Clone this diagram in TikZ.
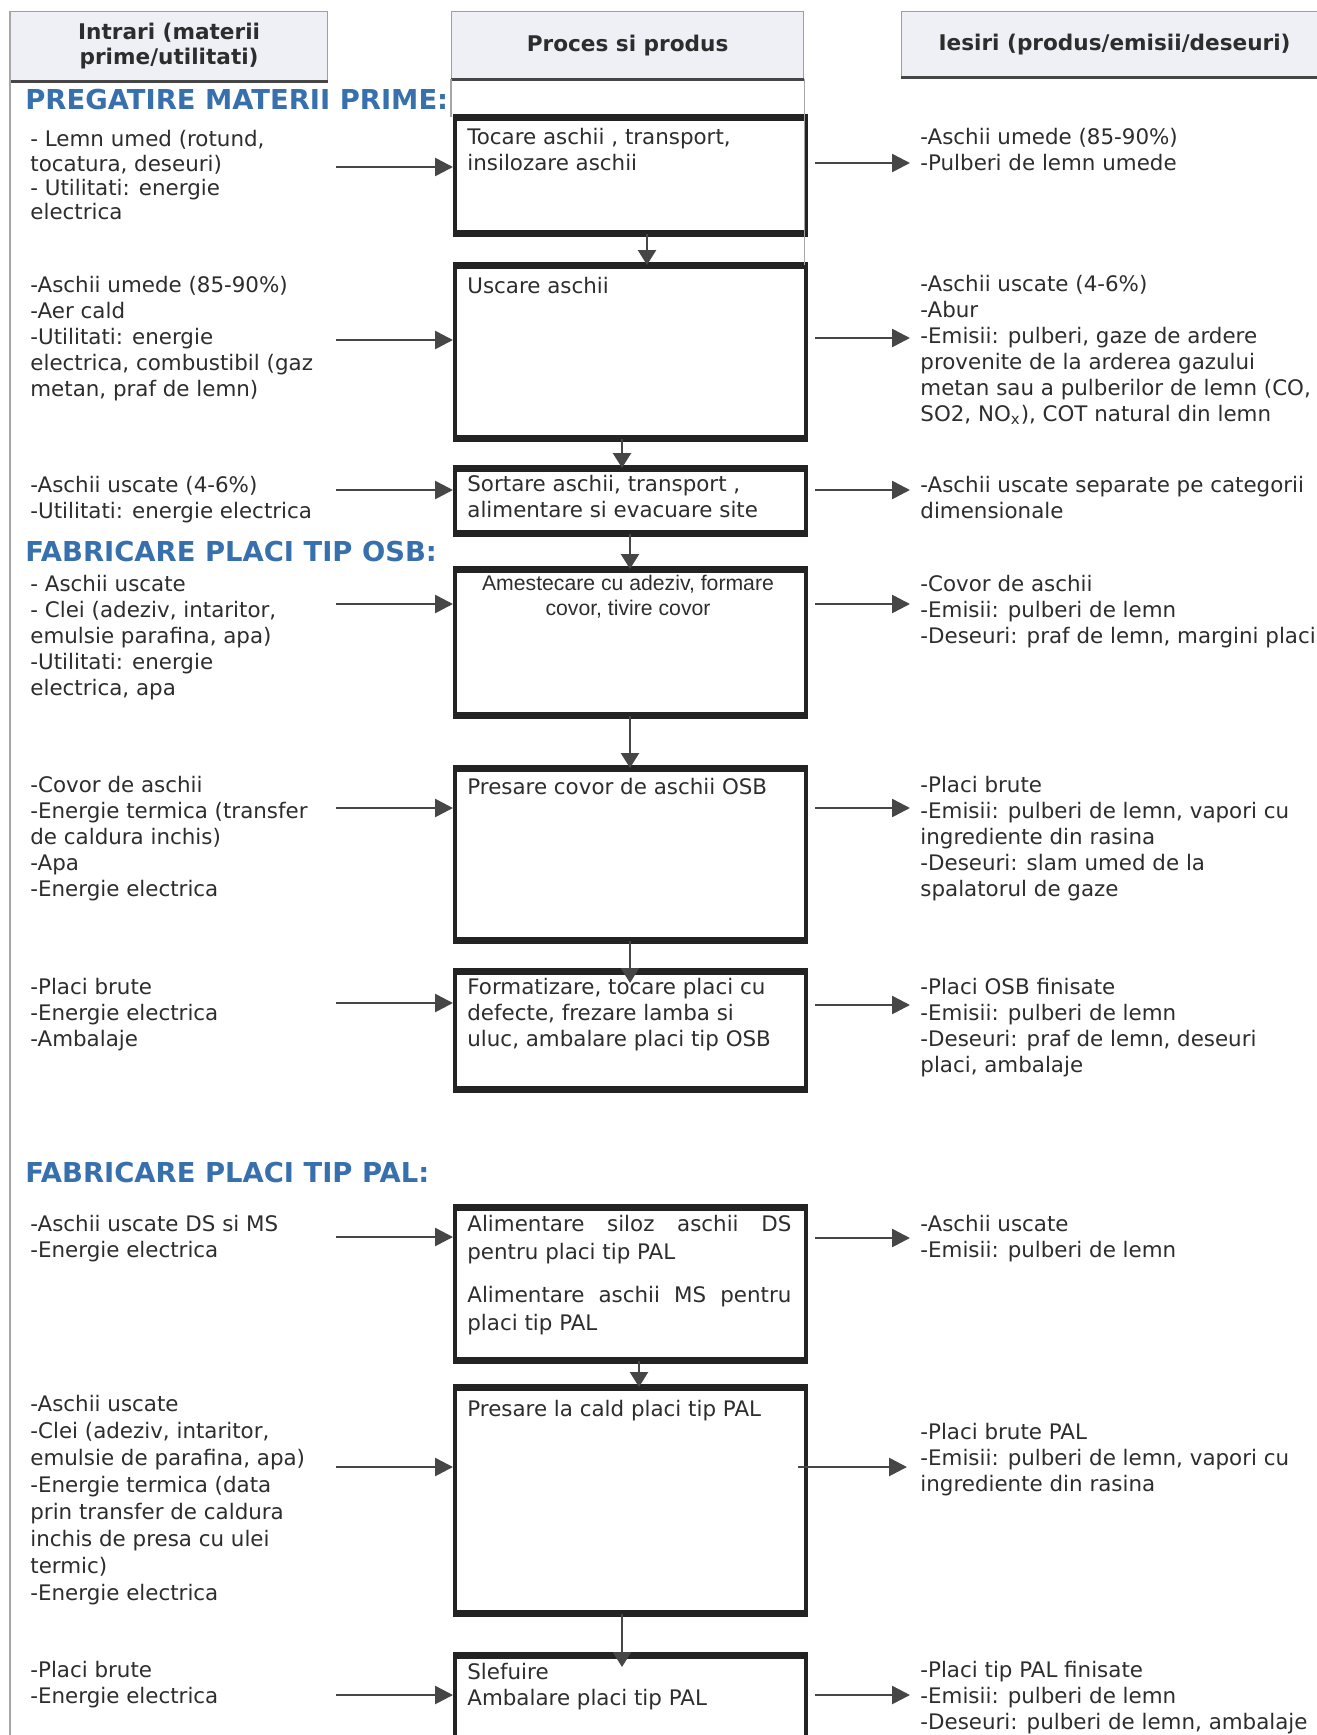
\documentclass[tikz,border=0pt]{standalone}
\usepackage{fontspec}
\setmainfont{DejaVu Sans}
\newfontfamily\arialf{Liberation Sans}
\usetikzlibrary{arrows.meta}
\definecolor{hdrfill}{RGB}{238,240,245}
\definecolor{ttlblue}{RGB}{55,112,172}
\definecolor{txtc}{RGB}{45,45,45}
\definecolor{arrc}{RGB}{70,70,70}
\definecolor{boxc}{RGB}{35,35,35}
\begin{document}
\begin{tikzpicture}[x=0.5pt,y={(0pt,-0.5pt)},
  txt/.style={anchor=north west, inner sep=0pt, align=left,
    font=\fontsize{10.7pt}{13pt}\selectfont, text=txtc, execute at begin node=\strut},
  ctxt/.style={anchor=north, inner sep=0pt, align=center,
    font=\arialf\fontsize{10.6pt}{12.5pt}\selectfont, text=txtc, execute at begin node=\strut},
  ttl/.style={anchor=west, inner sep=0pt, font=\bfseries\fontsize{13.7pt}{16pt}\selectfont, text=ttlblue},
  hdr/.style={draw=gray!75, line width=0.6pt, fill=hdrfill, anchor=north west, inner sep=0pt,
    align=center, font=\bfseries\fontsize{10.8pt}{12.5pt}\selectfont, text=txtc},
  pbox/.style={draw=boxc, line width=2pt, minimum width=175.5pt, anchor=north west, inner sep=0pt},
  tb/.style={draw=boxc, line width=3.2pt},
  harr/.style={draw=arrc, line width=1.3pt, -{Triangle[length=9pt,width=9pt]}},
  varr/.style={draw=arrc, line width=1.2pt, -{Triangle[length=7.5pt,width=9pt]}}
]
\useasboundingbox (0,0) rectangle (1317,1735);
\clip (0,0) rectangle (1317,1735);
\coordinate (pb) at (0,1735);

% headers
\node[hdr, minimum width=158.5pt, minimum height=34.5pt] (h1) at (10,11) {Intrari (materii\\prime/utilitati)};
\node[hdr, minimum width=176pt, minimum height=33.5pt] (h2) at (451,11) {Proces si produs};
\node[hdr, minimum width=213pt, minimum height=32.5pt] (h3) at (901,11) {Iesiri (produs/emisii/deseuri)};
\foreach \h in {h1,h2,h3} {\draw[line width=1.5pt, gray!55!black] (\h.south west) -- (\h.south east);}

% section titles
\node[ttl] (t1) at (25,100) {PREGATIRE MATERII PRIME:};
\node[ttl] (t2) at (25,552) {FABRICARE PLACI TIP OSB:};
\node[ttl] (t3) at (25,1173) {FABRICARE PLACI TIP PAL:};

% process boxes
\node[pbox, minimum height=56.5pt] (b1) at (453,117) {};
\node[pbox, minimum height=85pt] (b2) at (453,265) {};
\node[pbox, minimum height=31pt] (b3) at (453,468) {};
\node[pbox, minimum height=71.5pt] (b4) at (453,569) {};
\node[pbox, minimum height=84.5pt] (b5) at (453,768) {};
\node[pbox, minimum height=57.5pt] (b6) at (453,971) {};
\node[pbox, minimum height=75pt] (b7) at (453,1207) {};
\node[pbox, minimum height=111.5pt] (b8) at (453,1387) {};
\node[pbox, minimum height=60pt] (b9) at (453,1655) {};
\foreach \b in {b1,b2,b3,b4,b5,b6,b7,b8} {\draw[tb] (\b.north west) -- (\b.north east) (\b.south west) -- (\b.south east);}
\draw[tb] (b9.north west) -- (b9.north east);

% frame lines
\draw[gray!70, line width=0.8pt] (h1.north west) -- (h1.north west |- pb);
\draw[gray!70, line width=0.6pt] (h2.south west) -- (h2.south west |- b1.north);
\draw[gray!70, line width=0.6pt] (h2.south east) -- (h2.south east |- b2.north);

% box texts
\node[txt] (p1) at (467,128) {Tocare aschii , transport,\\insilozare aschii};
\node[txt] (p2) at (467,275) {Uscare aschii};
\node[txt] (p3) at (467,475) {Sortare aschii, transport ,\\alimentare si evacuare site};
\node[ctxt] (p4) at (628,575) {Amestecare cu adeziv, formare\\covor, tivire covor};
\node[txt] (p5) at (467,776) {Presare covor de aschii OSB};
\node[txt] (p6) at (467,978) {Formatizare, tocare placi cu\\defecte, frezare lamba si\\uluc, ambalare placi tip OSB};
\node[txt, font=\fontsize{10.7pt}{13.8pt}\selectfont] (p7) at (467,1215) {\makebox[162pt][s]{Alimentare siloz aschii DS}\\pentru placi tip PAL\\[8pt]\makebox[162pt][s]{Alimentare aschii MS pentru}\\placi tip PAL};
\node[txt] (p8) at (467,1398) {Presare la cald placi tip PAL};
\node[txt] (p9) at (467,1663) {Slefuire\\Ambalare placi tip PAL};

% input texts
\node[txt, font=\fontsize{10.7pt}{12.2pt}\selectfont] (l1) at (30,130) {- Lemn umed (rotund,\\tocatura, deseuri)\\- Utilitati: energie\\electrica};
\node[txt] (l2) at (30,276) {-Aschii umede (85-90\%)\\-Aer cald\\-Utilitati: energie\\electrica, combustibil (gaz\\metan, praf de lemn)};
\node[txt] (l3) at (30,476) {-Aschii uscate (4-6\%)\\-Utilitati: energie electrica};
\node[txt] (l4) at (30,575) {- Aschii uscate\\- Clei (adeziv, intaritor,\\emulsie parafina, apa)\\-Utilitati: energie\\electrica, apa};
\node[txt] (l5) at (30,776) {-Covor de aschii\\-Energie termica (transfer\\de caldura inchis)\\-Apa\\-Energie electrica};
\node[txt] (l6) at (30,978) {-Placi brute\\-Energie electrica\\-Ambalaje};
\node[txt] (l7) at (30,1215) {-Aschii uscate DS si MS\\-Energie electrica};
\node[txt, font=\fontsize{10.7pt}{13.5pt}\selectfont] (l8) at (30,1395) {-Aschii uscate\\-Clei (adeziv, intaritor,\\emulsie de parafina, apa)\\-Energie termica (data\\prin transfer de caldura\\inchis de presa cu ulei\\termic)\\-Energie electrica};
\node[txt] (l9) at (30,1661) {-Placi brute\\-Energie electrica};

% output texts
\node[txt] (r1) at (920,128) {-Aschii umede (85-90\%)\\-Pulberi de lemn umede};
\node[txt] (r2) at (920,275) {-Aschii uscate (4-6\%)\\-Abur\\-Emisii: pulberi, gaze de ardere\\provenite de la arderea gazului\\metan sau a pulberilor de lemn (CO,\\SO2, NO\textsubscript{x}), COT natural din lemn};
\node[txt] (r3) at (920,476) {-Aschii uscate separate pe categorii\\dimensionale};
\node[txt] (r4) at (920,575) {-Covor de aschii\\-Emisii: pulberi de lemn\\-Deseuri: praf de lemn, margini placi};
\node[txt] (r5) at (920,776) {-Placi brute\\-Emisii: pulberi de lemn, vapori cu\\ingrediente din rasina\\-Deseuri: slam umed de la\\spalatorul de gaze};
\node[txt] (r6) at (920,978) {-Placi OSB finisate\\-Emisii: pulberi de lemn\\-Deseuri: praf de lemn, deseuri\\placi, ambalaje};
\node[txt] (r7) at (920,1215) {-Aschii uscate\\-Emisii: pulberi de lemn};
\node[txt] (r8) at (920,1423) {-Placi brute PAL\\-Emisii: pulberi de lemn, vapori cu\\ingrediente din rasina};
\node[txt] (r9) at (920,1661) {-Placi tip PAL finisate\\-Emisii: pulberi de lemn\\-Deseuri: pulberi de lemn, ambalaje};

% input arrows
\foreach \i/\y in {1/167,2/340,3/490,4/604,5/808,6/1003,7/1237,8/1467,9/1695} {
  \coordinate (la\i) at (336,\y);
  \draw[harr] (la\i) -- (la\i -| b\i.west);
}
% output arrows
\foreach \i/\y in {1/163,2/338,3/490,4/604,5/808,6/1005,7/1238,9/1695} {
  \coordinate (ra\i) at (910,\y);
  \draw[harr, shorten <=3.5pt] (ra\i -| b\i.east) -- (ra\i);
}
\coordinate (ra8) at (907,1467);
\draw[harr, shorten <=-5pt] (ra8 -| b8.east) -- (ra8);

% flow arrows
\coordinate (v12) at (647,0);
\coordinate (v23) at (622,0);
\coordinate (v34) at (630,0);
\coordinate (v45) at (630,0);
\coordinate (v56) at (630,0);
\coordinate (v78) at (639,0);
\coordinate (v89) at (622,0);
\draw[varr] (b1.south -| v12) -- (b2.north -| v12);
\draw[varr] (b2.south -| v23) -- (b3.north -| v23);
\draw[varr] (b3.south -| v34) -- (b4.north -| v34);
\draw[varr] (b4.south -| v45) -- (b5.north -| v45);
\draw[varr, shorten >=-6pt] (b5.south -| v56) -- (b6.north -| v56);
\draw[varr] (b7.south -| v78) -- (b8.north -| v78);
\draw[varr, shorten >=-6pt] (b8.south -| v89) -- (b9.north -| v89);
\end{tikzpicture}
\end{document}
